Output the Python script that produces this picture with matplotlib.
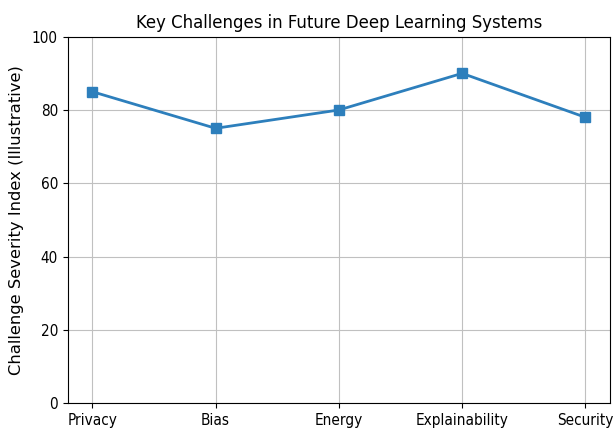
import matplotlib
matplotlib.use("Agg")
import matplotlib.pyplot as plt

# data
challenges = ["Privacy", "Bias", "Energy", "Explainability", "Security"]
severity = [85, 75, 80, 90, 78]

fig, ax = plt.subplots(figsize=(6.15, 4.32), dpi=100)
ax.plot(challenges, severity, marker="s", color="#2d7fbc", linewidth=2, markersize=7)
ax.set_ylim(0, 100)
ax.set_ylabel("Challenge Severity Index (Illustrative)", fontsize=11.8, labelpad=6)
ax.set_title("Key Challenges in Future Deep Learning Systems", fontsize=13.2,
             fontstretch="condensed")
ax.grid(True, color="#c0c0c0", linewidth=0.8)
ax.tick_params(labelsize=11)
for lab in ax.get_xticklabels() + ax.get_yticklabels():
    lab.set_fontstretch("condensed")

fig.subplots_adjust(left=0.11, right=0.992, top=0.915, bottom=0.067)
fig.savefig("out.png", dpi=100)
